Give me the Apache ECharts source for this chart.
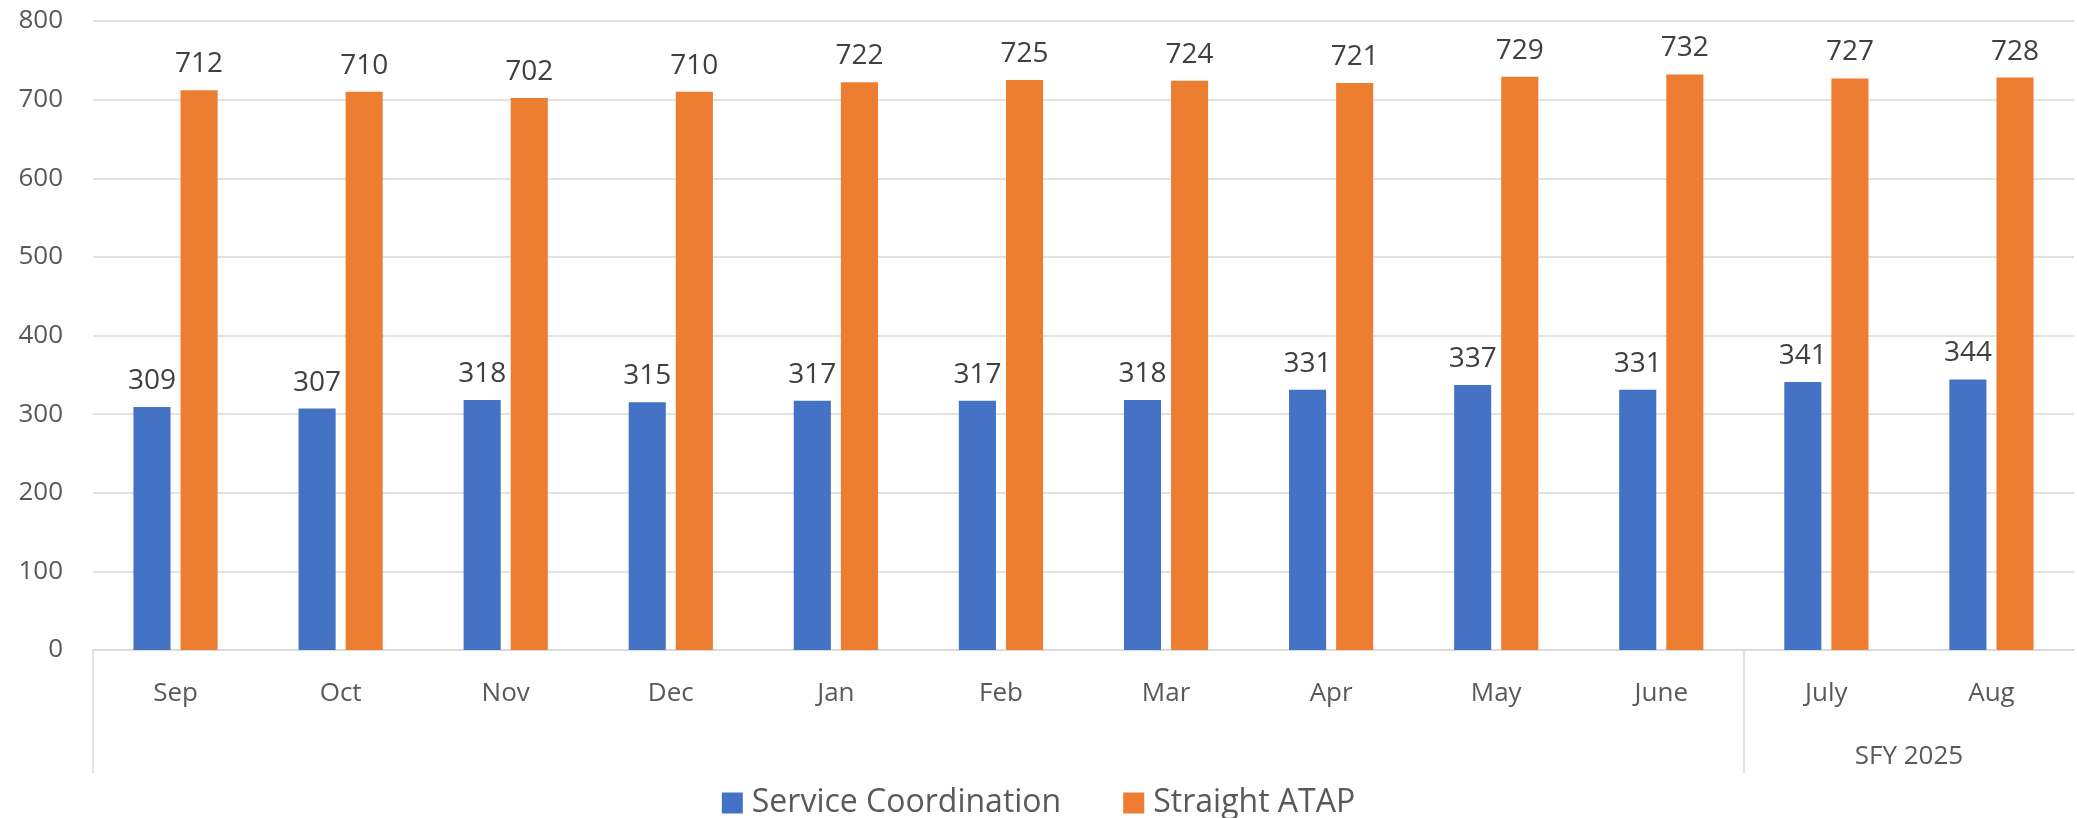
<!DOCTYPE html>
<html>
<head>
<meta charset="utf-8">
<script src="https://cdn.jsdelivr.net/npm/echarts@6/dist/echarts.min.js"></script>
<style>
  html, body { margin: 0; padding: 0; background: #fff; }
  #chart { width: 2077px; height: 818px; }
</style>
</head>
<body>
<div id="chart"></div>
<script>
// data
const months = ['Sep', 'Oct', 'Nov', 'Dec', 'Jan', 'Feb', 'Mar', 'Apr', 'May', 'June', 'July', 'Aug'];
// outer category row: boundary positions 0..12, label sits between July and Aug
const groupLabels = ['', '', '', '', '', '', '', '', '', '', '', 'SFY 2025', ''];
const groupBounds = [0, 10];
const serviceCoordination = [309, 307, 318, 315, 317, 317, 318, 331, 337, 331, 341, 344];
const straightAtap = [712, 710, 702, 710, 722, 725, 724, 721, 729, 732, 727, 728];
const yTicks = { min: 0, max: 800, interval: 100 };

const textColor = '#595959';
const lineColor = '#D9D9D9';
const font = 'Open Sans';

const chart = echarts.init(document.getElementById('chart'));

const labelStyle = {
    show: true,
    position: 'top',
    distance: 12,
    color: '#404040',
    fontFamily: font,
    fontSize: 28
};

const option = {
    animation: false,
    textStyle: { fontFamily: font },
    grid: { left: 93, right: 0, top: 21, bottom: 168, containLabel: false },
    legend: {
        bottom: -1,
        left: 'center',
        padding: 0,
        icon: 'rect',
        itemWidth: 21,
        itemHeight: 21,
        itemGap: 62,
        textStyle: { color: textColor, fontFamily: font, fontSize: 32, padding: [0, 0, 0, 4] },
        data: ['Service Coordination', 'Straight ATAP']
    },
    xAxis: [
        {
            type: 'category',
            position: 'bottom',
            offset: 0,
            data: months,
            axisLine: { show: true, lineStyle: { color: lineColor, width: 1.5 } },
            axisTick: { show: false },
            axisLabel: { color: textColor, fontFamily: font, fontSize: 26, margin: 31, interval: 0 }
        },
        {
            type: 'category',
            position: 'bottom',
            offset: 0,
            boundaryGap: false,
            data: groupLabels,
            axisLine: { show: false },
            axisTick: {
                show: true,
                length: 123,
                interval: (i) => groupBounds.includes(i),
                lineStyle: { color: lineColor, width: 1.5 }
            },
            axisLabel: { color: textColor, fontFamily: font, fontSize: 26, margin: 94, interval: 0 },
            splitLine: { show: false }
        }
    ],
    yAxis: {
        type: 'value',
        min: yTicks.min,
        max: yTicks.max,
        interval: yTicks.interval,
        axisLine: { show: false },
        axisTick: { show: false },
        axisLabel: { color: textColor, fontFamily: font, fontSize: 26, margin: 30 },
        splitLine: { lineStyle: { color: lineColor, width: 1.5 } }
    },
    series: [
        {
            name: 'Service Coordination',
            type: 'bar',
            xAxisIndex: 0,
            data: serviceCoordination,
            itemStyle: { color: '#4472C4' },
            barGap: '27%',
            barCategoryGap: '49%',
            label: labelStyle
        },
        {
            name: 'Straight ATAP',
            type: 'bar',
            xAxisIndex: 0,
            data: straightAtap,
            itemStyle: { color: '#ED7D31' },
            barGap: '27%',
            barCategoryGap: '49%',
            label: labelStyle
        }
    ]
};

chart.setOption(option);
</script>
</body>
</html>
